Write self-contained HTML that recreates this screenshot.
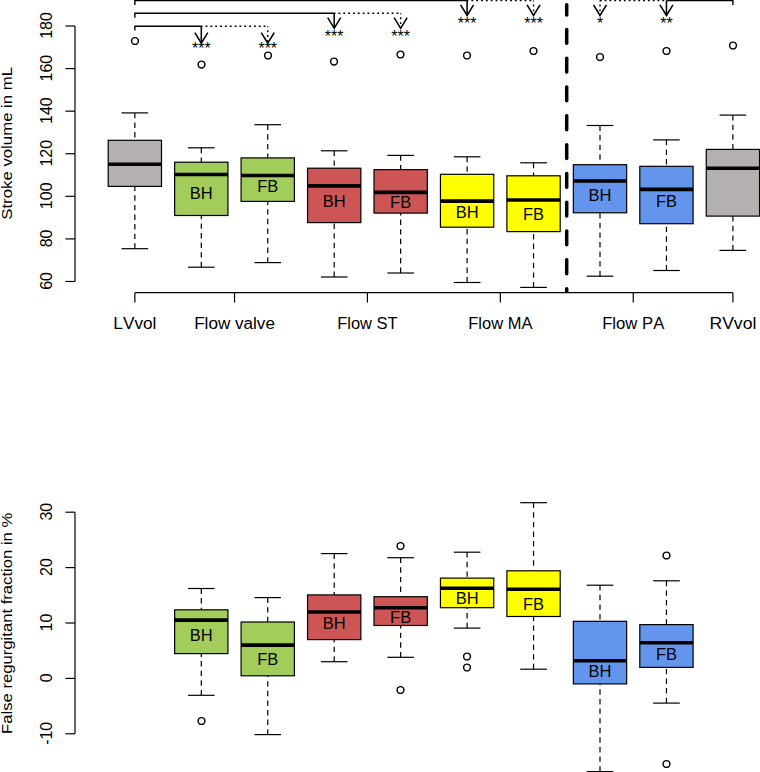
<!DOCTYPE html>
<html><head><meta charset="utf-8"><title>Boxplots</title>
<style>
html,body{margin:0;padding:0;background:#fff;}
body{width:760px;height:772px;overflow:hidden;}
svg{display:block;font-family:"Liberation Sans",sans-serif;fill:#000;font-kerning:none;}
</style></head><body>
<svg width="760" height="772" viewBox="0 0 760 772">
<defs><clipPath id="cpv"><rect x="560" y="0" width="14" height="292.9"/></clipPath></defs>
<rect width="760" height="772" fill="#fff"/>
<line x1="75.00" y1="26.00" x2="75.00" y2="281.48" stroke="#000" stroke-width="1.2" />
<line x1="65.40" y1="26.00" x2="75.00" y2="26.00" stroke="#000" stroke-width="1.2" />
<text transform="translate(51.55,25.50) rotate(-90) scale(1.0,1)" text-anchor="middle" font-size="16" >180</text>
<line x1="65.40" y1="68.58" x2="75.00" y2="68.58" stroke="#000" stroke-width="1.2" />
<text transform="translate(51.55,68.08) rotate(-90) scale(1.0,1)" text-anchor="middle" font-size="16" >160</text>
<line x1="65.40" y1="111.16" x2="75.00" y2="111.16" stroke="#000" stroke-width="1.2" />
<text transform="translate(51.55,110.66) rotate(-90) scale(1.0,1)" text-anchor="middle" font-size="16" >140</text>
<line x1="65.40" y1="153.74" x2="75.00" y2="153.74" stroke="#000" stroke-width="1.2" />
<text transform="translate(51.55,153.24) rotate(-90) scale(1.0,1)" text-anchor="middle" font-size="16" >120</text>
<line x1="65.40" y1="196.32" x2="75.00" y2="196.32" stroke="#000" stroke-width="1.2" />
<text transform="translate(51.55,195.82) rotate(-90) scale(1.0,1)" text-anchor="middle" font-size="16" >100</text>
<line x1="65.40" y1="238.90" x2="75.00" y2="238.90" stroke="#000" stroke-width="1.2" />
<text transform="translate(51.55,238.40) rotate(-90) scale(1.0,1)" text-anchor="middle" font-size="16" >80</text>
<line x1="65.40" y1="281.48" x2="75.00" y2="281.48" stroke="#000" stroke-width="1.2" />
<text transform="translate(51.55,280.98) rotate(-90) scale(1.0,1)" text-anchor="middle" font-size="16" >60</text>
<text transform="translate(11.90,143.30) rotate(-90) scale(1.0829,1)" text-anchor="middle" font-size="15.5" >Stroke volume in mL</text>
<line x1="134.85" y1="292.70" x2="732.90" y2="292.70" stroke="#000" stroke-width="1.2" />
<line x1="134.85" y1="292.70" x2="134.85" y2="302.50" stroke="#000" stroke-width="1.2" />
<text transform="translate(134.85,328.50) scale(1.102,1)" text-anchor="middle" font-size="15.6" >LVvol</text>
<line x1="234.53" y1="292.70" x2="234.53" y2="302.50" stroke="#000" stroke-width="1.2" />
<text transform="translate(234.53,328.50) scale(1.097,1)" text-anchor="middle" font-size="15.6" >Flow valve</text>
<line x1="367.43" y1="292.70" x2="367.43" y2="302.50" stroke="#000" stroke-width="1.2" />
<text transform="translate(367.43,328.50) scale(1.057,1)" text-anchor="middle" font-size="15.6" >Flow ST</text>
<line x1="500.33" y1="292.70" x2="500.33" y2="302.50" stroke="#000" stroke-width="1.2" />
<text transform="translate(500.33,328.50) scale(1.057,1)" text-anchor="middle" font-size="15.6" >Flow MA</text>
<line x1="633.23" y1="292.70" x2="633.23" y2="302.50" stroke="#000" stroke-width="1.2" />
<text transform="translate(633.23,328.50) scale(1.07,1)" text-anchor="middle" font-size="15.6" >Flow PA</text>
<line x1="732.90" y1="292.70" x2="732.90" y2="302.50" stroke="#000" stroke-width="1.2" />
<text transform="translate(732.90,328.50) scale(1.127,1)" text-anchor="middle" font-size="15.6" >RVvol</text>
<g clip-path="url(#cpv)">
<line x1="566.70" y1="4.65" x2="566.70" y2="15.05" stroke="#000" stroke-width="3.5" stroke-linecap="round"/>
<line x1="566.70" y1="29.45" x2="566.70" y2="43.25" stroke="#000" stroke-width="3.5" stroke-linecap="round"/>
<line x1="566.70" y1="58.25" x2="566.70" y2="72.05" stroke="#000" stroke-width="3.5" stroke-linecap="round"/>
<line x1="566.70" y1="87.05" x2="566.70" y2="100.85" stroke="#000" stroke-width="3.5" stroke-linecap="round"/>
<line x1="566.70" y1="115.85" x2="566.70" y2="129.65" stroke="#000" stroke-width="3.5" stroke-linecap="round"/>
<line x1="566.70" y1="144.65" x2="566.70" y2="158.45" stroke="#000" stroke-width="3.5" stroke-linecap="round"/>
<line x1="566.70" y1="173.45" x2="566.70" y2="187.25" stroke="#000" stroke-width="3.5" stroke-linecap="round"/>
<line x1="566.70" y1="202.25" x2="566.70" y2="216.05" stroke="#000" stroke-width="3.5" stroke-linecap="round"/>
<line x1="566.70" y1="231.05" x2="566.70" y2="244.85" stroke="#000" stroke-width="3.5" stroke-linecap="round"/>
<line x1="566.70" y1="259.85" x2="566.70" y2="273.65" stroke="#000" stroke-width="3.5" stroke-linecap="round"/>
<line x1="566.70" y1="288.65" x2="566.70" y2="302.45" stroke="#000" stroke-width="3.5" stroke-linecap="round"/>
</g>
<line x1="134.85" y1="112.90" x2="134.85" y2="140.30" stroke="#000" stroke-width="1.2" stroke-dasharray="5.4 4.2"/>
<line x1="134.85" y1="248.70" x2="134.85" y2="186.40" stroke="#000" stroke-width="1.2" stroke-dasharray="5.4 4.2"/>
<line x1="121.52" y1="112.90" x2="148.17" y2="112.90" stroke="#000" stroke-width="1.2" />
<line x1="121.52" y1="248.70" x2="148.17" y2="248.70" stroke="#000" stroke-width="1.2" />
<rect x="108.20" y="140.30" width="53.3" height="46.10" fill="#B5B0B0" stroke="#000" stroke-width="1.2"/>
<line x1="108.20" y1="164.20" x2="161.50" y2="164.20" stroke="#000" stroke-width="3.6" />
<line x1="201.30" y1="147.80" x2="201.30" y2="162.20" stroke="#000" stroke-width="1.2" stroke-dasharray="5.4 4.2"/>
<line x1="201.30" y1="267.20" x2="201.30" y2="215.50" stroke="#000" stroke-width="1.2" stroke-dasharray="5.4 4.2"/>
<line x1="187.98" y1="147.80" x2="214.62" y2="147.80" stroke="#000" stroke-width="1.2" />
<line x1="187.98" y1="267.20" x2="214.62" y2="267.20" stroke="#000" stroke-width="1.2" />
<rect x="174.65" y="162.20" width="53.3" height="53.30" fill="#A2CD5A" stroke="#000" stroke-width="1.2"/>
<line x1="174.65" y1="174.50" x2="227.95" y2="174.50" stroke="#000" stroke-width="3.6" />
<line x1="267.75" y1="124.70" x2="267.75" y2="157.90" stroke="#000" stroke-width="1.2" stroke-dasharray="5.4 4.2"/>
<line x1="267.75" y1="262.60" x2="267.75" y2="201.40" stroke="#000" stroke-width="1.2" stroke-dasharray="5.4 4.2"/>
<line x1="254.43" y1="124.70" x2="281.07" y2="124.70" stroke="#000" stroke-width="1.2" />
<line x1="254.43" y1="262.60" x2="281.07" y2="262.60" stroke="#000" stroke-width="1.2" />
<rect x="241.10" y="157.90" width="53.3" height="43.50" fill="#A2CD5A" stroke="#000" stroke-width="1.2"/>
<line x1="241.10" y1="175.50" x2="294.40" y2="175.50" stroke="#000" stroke-width="3.6" />
<line x1="334.20" y1="150.80" x2="334.20" y2="168.20" stroke="#000" stroke-width="1.2" stroke-dasharray="5.4 4.2"/>
<line x1="334.20" y1="277.00" x2="334.20" y2="222.60" stroke="#000" stroke-width="1.2" stroke-dasharray="5.4 4.2"/>
<line x1="320.88" y1="150.80" x2="347.53" y2="150.80" stroke="#000" stroke-width="1.2" />
<line x1="320.88" y1="277.00" x2="347.53" y2="277.00" stroke="#000" stroke-width="1.2" />
<rect x="307.55" y="168.20" width="53.3" height="54.40" fill="#CD5555" stroke="#000" stroke-width="1.2"/>
<line x1="307.55" y1="185.90" x2="360.85" y2="185.90" stroke="#000" stroke-width="3.6" />
<line x1="400.65" y1="155.40" x2="400.65" y2="169.60" stroke="#000" stroke-width="1.2" stroke-dasharray="5.4 4.2"/>
<line x1="400.65" y1="273.00" x2="400.65" y2="213.10" stroke="#000" stroke-width="1.2" stroke-dasharray="5.4 4.2"/>
<line x1="387.32" y1="155.40" x2="413.97" y2="155.40" stroke="#000" stroke-width="1.2" />
<line x1="387.32" y1="273.00" x2="413.97" y2="273.00" stroke="#000" stroke-width="1.2" />
<rect x="374.00" y="169.60" width="53.3" height="43.50" fill="#CD5555" stroke="#000" stroke-width="1.2"/>
<line x1="374.00" y1="192.40" x2="427.30" y2="192.40" stroke="#000" stroke-width="3.6" />
<line x1="467.10" y1="156.80" x2="467.10" y2="174.30" stroke="#000" stroke-width="1.2" stroke-dasharray="5.4 4.2"/>
<line x1="467.10" y1="282.50" x2="467.10" y2="227.20" stroke="#000" stroke-width="1.2" stroke-dasharray="5.4 4.2"/>
<line x1="453.78" y1="156.80" x2="480.43" y2="156.80" stroke="#000" stroke-width="1.2" />
<line x1="453.78" y1="282.50" x2="480.43" y2="282.50" stroke="#000" stroke-width="1.2" />
<rect x="440.45" y="174.30" width="53.3" height="52.90" fill="#FFFF00" stroke="#000" stroke-width="1.2"/>
<line x1="440.45" y1="201.10" x2="493.75" y2="201.10" stroke="#000" stroke-width="3.6" />
<line x1="533.55" y1="162.80" x2="533.55" y2="175.80" stroke="#000" stroke-width="1.2" stroke-dasharray="5.4 4.2"/>
<line x1="533.55" y1="287.40" x2="533.55" y2="231.60" stroke="#000" stroke-width="1.2" stroke-dasharray="5.4 4.2"/>
<line x1="520.23" y1="162.80" x2="546.88" y2="162.80" stroke="#000" stroke-width="1.2" />
<line x1="520.23" y1="287.40" x2="546.88" y2="287.40" stroke="#000" stroke-width="1.2" />
<rect x="506.90" y="175.80" width="53.3" height="55.80" fill="#FFFF00" stroke="#000" stroke-width="1.2"/>
<line x1="506.90" y1="200.00" x2="560.20" y2="200.00" stroke="#000" stroke-width="3.6" />
<line x1="600.00" y1="125.50" x2="600.00" y2="164.70" stroke="#000" stroke-width="1.2" stroke-dasharray="5.4 4.2"/>
<line x1="600.00" y1="276.20" x2="600.00" y2="212.80" stroke="#000" stroke-width="1.2" stroke-dasharray="5.4 4.2"/>
<line x1="586.67" y1="125.50" x2="613.33" y2="125.50" stroke="#000" stroke-width="1.2" />
<line x1="586.67" y1="276.20" x2="613.33" y2="276.20" stroke="#000" stroke-width="1.2" />
<rect x="573.35" y="164.70" width="53.3" height="48.10" fill="#6495ED" stroke="#000" stroke-width="1.2"/>
<line x1="573.35" y1="181.00" x2="626.65" y2="181.00" stroke="#000" stroke-width="3.6" />
<line x1="666.45" y1="139.90" x2="666.45" y2="166.30" stroke="#000" stroke-width="1.2" stroke-dasharray="5.4 4.2"/>
<line x1="666.45" y1="270.50" x2="666.45" y2="223.70" stroke="#000" stroke-width="1.2" stroke-dasharray="5.4 4.2"/>
<line x1="653.12" y1="139.90" x2="679.78" y2="139.90" stroke="#000" stroke-width="1.2" />
<line x1="653.12" y1="270.50" x2="679.78" y2="270.50" stroke="#000" stroke-width="1.2" />
<rect x="639.80" y="166.30" width="53.3" height="57.40" fill="#6495ED" stroke="#000" stroke-width="1.2"/>
<line x1="639.80" y1="189.40" x2="693.10" y2="189.40" stroke="#000" stroke-width="3.6" />
<line x1="732.90" y1="115.10" x2="732.90" y2="149.40" stroke="#000" stroke-width="1.2" stroke-dasharray="5.4 4.2"/>
<line x1="732.90" y1="250.40" x2="732.90" y2="216.10" stroke="#000" stroke-width="1.2" stroke-dasharray="5.4 4.2"/>
<line x1="719.58" y1="115.10" x2="746.23" y2="115.10" stroke="#000" stroke-width="1.2" />
<line x1="719.58" y1="250.40" x2="746.23" y2="250.40" stroke="#000" stroke-width="1.2" />
<rect x="706.25" y="149.40" width="53.3" height="66.70" fill="#B5B0B0" stroke="#000" stroke-width="1.2"/>
<line x1="706.25" y1="168.20" x2="759.55" y2="168.20" stroke="#000" stroke-width="3.6" />
<text transform="translate(201.30,199.10) scale(1.03,1)" text-anchor="middle" font-size="16" >BH</text>
<text transform="translate(267.75,192.30) scale(1.03,1)" text-anchor="middle" font-size="16" >FB</text>
<text transform="translate(334.20,207.30) scale(1.03,1)" text-anchor="middle" font-size="16" >BH</text>
<text transform="translate(400.65,208.10) scale(1.03,1)" text-anchor="middle" font-size="16" >FB</text>
<text transform="translate(467.10,217.60) scale(1.03,1)" text-anchor="middle" font-size="16" >BH</text>
<text transform="translate(533.55,219.80) scale(1.03,1)" text-anchor="middle" font-size="16" >FB</text>
<text transform="translate(600.00,200.50) scale(1.03,1)" text-anchor="middle" font-size="16" >BH</text>
<text transform="translate(666.45,206.70) scale(1.03,1)" text-anchor="middle" font-size="16" >FB</text>
<circle cx="135.00" cy="41.00" r="3.4" fill="none" stroke="#000" stroke-width="1.45"/>
<circle cx="201.50" cy="64.50" r="3.4" fill="none" stroke="#000" stroke-width="1.45"/>
<circle cx="268.00" cy="55.50" r="3.4" fill="none" stroke="#000" stroke-width="1.45"/>
<circle cx="334.00" cy="61.50" r="3.4" fill="none" stroke="#000" stroke-width="1.45"/>
<circle cx="400.50" cy="54.50" r="3.4" fill="none" stroke="#000" stroke-width="1.45"/>
<circle cx="467.00" cy="55.50" r="3.4" fill="none" stroke="#000" stroke-width="1.45"/>
<circle cx="533.50" cy="51.00" r="3.4" fill="none" stroke="#000" stroke-width="1.45"/>
<circle cx="600.00" cy="57.00" r="3.4" fill="none" stroke="#000" stroke-width="1.45"/>
<circle cx="666.50" cy="51.00" r="3.4" fill="none" stroke="#000" stroke-width="1.45"/>
<circle cx="733.00" cy="45.50" r="3.4" fill="none" stroke="#000" stroke-width="1.45"/>
<polyline points="134.85,30.60 134.85,26.20 201.30,26.20" fill="none" stroke="#000" stroke-width="1.4" stroke-linejoin="miter"/>
<line x1="201.30" y1="26.20" x2="267.75" y2="26.20" stroke="#000" stroke-width="1.4" stroke-dasharray="1.9 2.94" stroke-dashoffset="0.6"/>
<line x1="201.30" y1="26.20" x2="201.30" y2="43.20" stroke="#000" stroke-width="1.55" />
<polyline points="194.80,32.60 201.30,43.20 207.80,32.60" fill="none" stroke="#000" stroke-width="1.55" stroke-linejoin="miter" stroke-linecap="butt"/>
<line x1="267.75" y1="26.20" x2="267.75" y2="43.20" stroke="#000" stroke-width="1.4" stroke-dasharray="1.9 2.94" stroke-dashoffset="0.8"/>
<polyline points="261.25,32.60 267.75,43.20 274.25,32.60" fill="none" stroke="#000" stroke-width="1.55" stroke-linejoin="miter" stroke-linecap="butt"/>
<text transform="translate(201.30,54.20) scale(1.0,1)" text-anchor="middle" font-size="16" >***</text>
<text transform="translate(267.75,54.20) scale(1.0,1)" text-anchor="middle" font-size="16" >***</text>
<polyline points="134.85,17.65 134.85,13.25 334.20,13.25" fill="none" stroke="#000" stroke-width="1.4" stroke-linejoin="miter"/>
<line x1="334.20" y1="13.25" x2="400.65" y2="13.25" stroke="#000" stroke-width="1.4" stroke-dasharray="1.9 2.94" stroke-dashoffset="0.6"/>
<line x1="334.20" y1="13.25" x2="334.20" y2="28.30" stroke="#000" stroke-width="1.55" />
<polyline points="327.70,17.70 334.20,28.30 340.70,17.70" fill="none" stroke="#000" stroke-width="1.55" stroke-linejoin="miter" stroke-linecap="butt"/>
<line x1="400.65" y1="13.25" x2="400.65" y2="28.30" stroke="#000" stroke-width="1.4" stroke-dasharray="1.9 2.94" stroke-dashoffset="0.8"/>
<polyline points="394.15,17.70 400.65,28.30 407.15,17.70" fill="none" stroke="#000" stroke-width="1.55" stroke-linejoin="miter" stroke-linecap="butt"/>
<text transform="translate(334.20,42.00) scale(1.0,1)" text-anchor="middle" font-size="16" >***</text>
<text transform="translate(400.65,42.00) scale(1.0,1)" text-anchor="middle" font-size="16" >***</text>
<polyline points="134.85,4.90 134.85,0.50 467.10,0.50" fill="none" stroke="#000" stroke-width="1.4" stroke-linejoin="miter"/>
<line x1="467.10" y1="0.50" x2="533.55" y2="0.50" stroke="#000" stroke-width="1.4" stroke-dasharray="1.9 2.94" stroke-dashoffset="0.6"/>
<line x1="467.10" y1="0.50" x2="467.10" y2="15.40" stroke="#000" stroke-width="1.55" />
<polyline points="460.60,4.80 467.10,15.40 473.60,4.80" fill="none" stroke="#000" stroke-width="1.55" stroke-linejoin="miter" stroke-linecap="butt"/>
<line x1="533.55" y1="0.50" x2="533.55" y2="15.40" stroke="#000" stroke-width="1.4" stroke-dasharray="1.9 2.94" stroke-dashoffset="0.8"/>
<polyline points="527.05,4.80 533.55,15.40 540.05,4.80" fill="none" stroke="#000" stroke-width="1.55" stroke-linejoin="miter" stroke-linecap="butt"/>
<text transform="translate(467.10,28.90) scale(1.0,1)" text-anchor="middle" font-size="16" >***</text>
<text transform="translate(533.55,28.90) scale(1.0,1)" text-anchor="middle" font-size="16" >***</text>
<polyline points="732.90,4.90 732.90,0.50 666.45,0.50" fill="none" stroke="#000" stroke-width="1.4" stroke-linejoin="miter"/>
<line x1="666.45" y1="0.50" x2="600.00" y2="0.50" stroke="#000" stroke-width="1.4" stroke-dasharray="1.9 2.91" stroke-dashoffset="2.59"/>
<line x1="666.45" y1="0.50" x2="666.45" y2="15.40" stroke="#000" stroke-width="1.55" />
<polyline points="659.95,4.80 666.45,15.40 672.95,4.80" fill="none" stroke="#000" stroke-width="1.55" stroke-linejoin="miter" stroke-linecap="butt"/>
<line x1="600.00" y1="0.50" x2="600.00" y2="15.40" stroke="#000" stroke-width="1.4" stroke-dasharray="1.9 2.94" stroke-dashoffset="0.8"/>
<polyline points="593.50,4.80 600.00,15.40 606.50,4.80" fill="none" stroke="#000" stroke-width="1.55" stroke-linejoin="miter" stroke-linecap="butt"/>
<text transform="translate(666.45,29.00) scale(1.0,1)" text-anchor="middle" font-size="16" >**</text>
<text transform="translate(600.00,29.00) scale(1.0,1)" text-anchor="middle" font-size="16" >*</text>
<line x1="75.00" y1="512.20" x2="75.00" y2="733.80" stroke="#000" stroke-width="1.2" />
<line x1="65.40" y1="512.20" x2="75.00" y2="512.20" stroke="#000" stroke-width="1.2" />
<text transform="translate(51.55,511.70) rotate(-90) scale(1.0,1)" text-anchor="middle" font-size="16" >30</text>
<line x1="65.40" y1="567.60" x2="75.00" y2="567.60" stroke="#000" stroke-width="1.2" />
<text transform="translate(51.55,567.10) rotate(-90) scale(1.0,1)" text-anchor="middle" font-size="16" >20</text>
<line x1="65.40" y1="623.00" x2="75.00" y2="623.00" stroke="#000" stroke-width="1.2" />
<text transform="translate(51.55,622.50) rotate(-90) scale(1.0,1)" text-anchor="middle" font-size="16" >10</text>
<line x1="65.40" y1="678.40" x2="75.00" y2="678.40" stroke="#000" stroke-width="1.2" />
<text transform="translate(51.55,677.90) rotate(-90) scale(1.0,1)" text-anchor="middle" font-size="16" >0</text>
<line x1="65.40" y1="733.80" x2="75.00" y2="733.80" stroke="#000" stroke-width="1.2" />
<text transform="translate(51.55,733.30) rotate(-90) scale(1.0,1)" text-anchor="middle" font-size="16" >-10</text>
<text transform="translate(11.90,623.30) rotate(-90) scale(1.0759,1)" text-anchor="middle" font-size="15.5" >False regurgitant fraction in %</text>
<line x1="201.30" y1="588.50" x2="201.30" y2="609.80" stroke="#000" stroke-width="1.2" stroke-dasharray="5.4 4.2"/>
<line x1="201.30" y1="695.30" x2="201.30" y2="653.60" stroke="#000" stroke-width="1.2" stroke-dasharray="5.4 4.2"/>
<line x1="187.98" y1="588.50" x2="214.62" y2="588.50" stroke="#000" stroke-width="1.2" />
<line x1="187.98" y1="695.30" x2="214.62" y2="695.30" stroke="#000" stroke-width="1.2" />
<rect x="174.65" y="609.80" width="53.3" height="43.80" fill="#A2CD5A" stroke="#000" stroke-width="1.2"/>
<line x1="174.65" y1="620.10" x2="227.95" y2="620.10" stroke="#000" stroke-width="3.6" />
<line x1="267.75" y1="597.60" x2="267.75" y2="622.00" stroke="#000" stroke-width="1.2" stroke-dasharray="5.4 4.2"/>
<line x1="267.75" y1="734.60" x2="267.75" y2="675.80" stroke="#000" stroke-width="1.2" stroke-dasharray="5.4 4.2"/>
<line x1="254.43" y1="597.60" x2="281.07" y2="597.60" stroke="#000" stroke-width="1.2" />
<line x1="254.43" y1="734.60" x2="281.07" y2="734.60" stroke="#000" stroke-width="1.2" />
<rect x="241.10" y="622.00" width="53.3" height="53.80" fill="#A2CD5A" stroke="#000" stroke-width="1.2"/>
<line x1="241.10" y1="645.10" x2="294.40" y2="645.10" stroke="#000" stroke-width="3.6" />
<line x1="334.20" y1="553.60" x2="334.20" y2="594.90" stroke="#000" stroke-width="1.2" stroke-dasharray="5.4 4.2"/>
<line x1="334.20" y1="661.70" x2="334.20" y2="639.60" stroke="#000" stroke-width="1.2" stroke-dasharray="5.4 4.2"/>
<line x1="320.88" y1="553.60" x2="347.53" y2="553.60" stroke="#000" stroke-width="1.2" />
<line x1="320.88" y1="661.70" x2="347.53" y2="661.70" stroke="#000" stroke-width="1.2" />
<rect x="307.55" y="594.90" width="53.3" height="44.70" fill="#CD5555" stroke="#000" stroke-width="1.2"/>
<line x1="307.55" y1="612.00" x2="360.85" y2="612.00" stroke="#000" stroke-width="3.6" />
<line x1="400.65" y1="557.70" x2="400.65" y2="596.70" stroke="#000" stroke-width="1.2" stroke-dasharray="5.4 4.2"/>
<line x1="400.65" y1="657.30" x2="400.65" y2="625.50" stroke="#000" stroke-width="1.2" stroke-dasharray="5.4 4.2"/>
<line x1="387.32" y1="557.70" x2="413.97" y2="557.70" stroke="#000" stroke-width="1.2" />
<line x1="387.32" y1="657.30" x2="413.97" y2="657.30" stroke="#000" stroke-width="1.2" />
<rect x="374.00" y="596.70" width="53.3" height="28.80" fill="#CD5555" stroke="#000" stroke-width="1.2"/>
<line x1="374.00" y1="607.70" x2="427.30" y2="607.70" stroke="#000" stroke-width="3.6" />
<line x1="467.10" y1="552.20" x2="467.10" y2="578.10" stroke="#000" stroke-width="1.2" stroke-dasharray="5.4 4.2"/>
<line x1="467.10" y1="628.10" x2="467.10" y2="607.70" stroke="#000" stroke-width="1.2" stroke-dasharray="5.4 4.2"/>
<line x1="453.78" y1="552.20" x2="480.43" y2="552.20" stroke="#000" stroke-width="1.2" />
<line x1="453.78" y1="628.10" x2="480.43" y2="628.10" stroke="#000" stroke-width="1.2" />
<rect x="440.45" y="578.10" width="53.3" height="29.60" fill="#FFFF00" stroke="#000" stroke-width="1.2"/>
<line x1="440.45" y1="588.30" x2="493.75" y2="588.30" stroke="#000" stroke-width="3.6" />
<line x1="533.55" y1="502.70" x2="533.55" y2="570.80" stroke="#000" stroke-width="1.2" stroke-dasharray="5.4 4.2"/>
<line x1="533.55" y1="669.20" x2="533.55" y2="616.50" stroke="#000" stroke-width="1.2" stroke-dasharray="5.4 4.2"/>
<line x1="520.23" y1="502.70" x2="546.88" y2="502.70" stroke="#000" stroke-width="1.2" />
<line x1="520.23" y1="669.20" x2="546.88" y2="669.20" stroke="#000" stroke-width="1.2" />
<rect x="506.90" y="570.80" width="53.3" height="45.70" fill="#FFFF00" stroke="#000" stroke-width="1.2"/>
<line x1="506.90" y1="589.20" x2="560.20" y2="589.20" stroke="#000" stroke-width="3.6" />
<line x1="600.00" y1="585.20" x2="600.00" y2="621.30" stroke="#000" stroke-width="1.2" stroke-dasharray="5.4 4.2"/>
<line x1="600.00" y1="771.60" x2="600.00" y2="683.90" stroke="#000" stroke-width="1.2" stroke-dasharray="5.4 4.2"/>
<line x1="586.67" y1="585.20" x2="613.33" y2="585.20" stroke="#000" stroke-width="1.2" />
<line x1="586.67" y1="771.60" x2="613.33" y2="771.60" stroke="#000" stroke-width="1.2" />
<rect x="573.35" y="621.30" width="53.3" height="62.60" fill="#6495ED" stroke="#000" stroke-width="1.2"/>
<line x1="573.35" y1="660.70" x2="626.65" y2="660.70" stroke="#000" stroke-width="3.6" />
<line x1="666.45" y1="580.80" x2="666.45" y2="624.60" stroke="#000" stroke-width="1.2" stroke-dasharray="5.4 4.2"/>
<line x1="666.45" y1="703.10" x2="666.45" y2="667.40" stroke="#000" stroke-width="1.2" stroke-dasharray="5.4 4.2"/>
<line x1="653.12" y1="580.80" x2="679.78" y2="580.80" stroke="#000" stroke-width="1.2" />
<line x1="653.12" y1="703.10" x2="679.78" y2="703.10" stroke="#000" stroke-width="1.2" />
<rect x="639.80" y="624.60" width="53.3" height="42.80" fill="#6495ED" stroke="#000" stroke-width="1.2"/>
<line x1="639.80" y1="642.70" x2="693.10" y2="642.70" stroke="#000" stroke-width="3.6" />
<text transform="translate(201.30,640.60) scale(1.03,1)" text-anchor="middle" font-size="16" >BH</text>
<text transform="translate(267.75,665.40) scale(1.03,1)" text-anchor="middle" font-size="16" >FB</text>
<text transform="translate(334.20,629.20) scale(1.03,1)" text-anchor="middle" font-size="16" >BH</text>
<text transform="translate(400.65,623.00) scale(1.03,1)" text-anchor="middle" font-size="16" >FB</text>
<text transform="translate(467.10,604.40) scale(1.03,1)" text-anchor="middle" font-size="16" >BH</text>
<text transform="translate(533.55,610.20) scale(1.03,1)" text-anchor="middle" font-size="16" >FB</text>
<text transform="translate(600.00,676.90) scale(1.03,1)" text-anchor="middle" font-size="16" >BH</text>
<text transform="translate(666.45,660.00) scale(1.03,1)" text-anchor="middle" font-size="16" >FB</text>
<circle cx="201.50" cy="721.00" r="3.4" fill="none" stroke="#000" stroke-width="1.45"/>
<circle cx="400.50" cy="546.00" r="3.4" fill="none" stroke="#000" stroke-width="1.45"/>
<circle cx="400.50" cy="690.00" r="3.4" fill="none" stroke="#000" stroke-width="1.45"/>
<circle cx="467.00" cy="656.50" r="3.4" fill="none" stroke="#000" stroke-width="1.45"/>
<circle cx="467.00" cy="667.50" r="3.4" fill="none" stroke="#000" stroke-width="1.45"/>
<circle cx="666.50" cy="555.50" r="3.4" fill="none" stroke="#000" stroke-width="1.45"/>
<circle cx="666.50" cy="764.00" r="3.4" fill="none" stroke="#000" stroke-width="1.45"/>
</svg>
</body></html>
